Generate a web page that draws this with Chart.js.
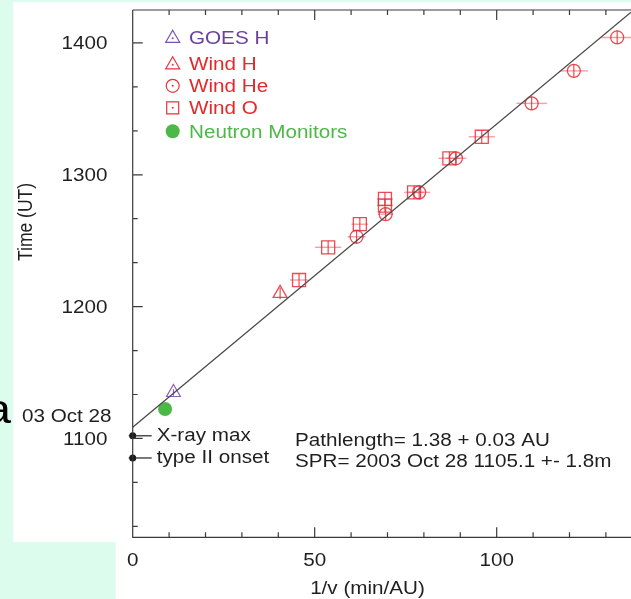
<!DOCTYPE html>
<html>
<head>
<meta charset="utf-8">
<script src="https://cdn.jsdelivr.net/npm/chart.js@4.4.1/dist/chart.umd.min.js"></script>
<style>
  html, body { margin: 0; padding: 0; background: #dcfcee; }
  canvas { display: block; }
</style>
</head>
<body>
<canvas id="sprChart" width="631" height="599"></canvas>
<script>
// x = 1/v (min/AU), y = arrival time in minutes after 00:00 UT (2003 Oct 28)
const goesX = [11.2];
const goesY = [680.9];
const goesYErr = [1.5];

const windHX = [40.5];
const windHY = [726.0];
const windHYErr = [2.6];

const windHeX = [61.5, 69.5, 78.7, 88.8, 109.6, 121.2, 133.1];
const windHeY = [751.8, 762.1, 772.0, 787.5, 812.5, 827.3, 842.5];
const windHeXErr = [2.5, 2.1, 3.0, 2.9, 4.2, 3.9, 4.4];
const windHeYErr = [3.0, 3.0, 3.0, 3.0, 3.0, 3.0, 3.0];

const windOX = [45.7, 53.7, 62.4, 69.3, 69.3, 77.3, 87.0, 95.9];
const windOY = [732.1, 747.0, 757.5, 769.0, 766.0, 772.0, 787.5, 797.3];
const windOXErr = [2.5, 3.6, 2.3, 2.2, 2.2, 2.7, 3.0, 3.6];
const windOYErr = [3.0, 3.0, 3.0, 3.0, 3.0, 3.0, 3.0, 3.0];

const neutronX = [8.9];
const neutronY = [673.4];

// fitted line: Pathlength 1.38 AU, SPR 1105.1
const fitX = [0, 136.9];
const fitY = [665.1, 854.0];

// solar events marked on the time axis
const eventY = [661.2, 651.1];
const eventLabels = ['X-ray max', 'type II onset'];

// axes
const xTicks = [0, 10, 20, 30, 40, 50, 60, 70, 80, 90, 100, 110, 120, 130];
const xLabelValues = [0, 50, 100];
const yTicks = [620, 640, 660, 680, 700, 720, 740, 760, 780, 800, 820, 840];
const yLabelValues = [660, 720, 780, 840];
const yLabelText = ['1100', '1200', '1300', '1400'];

const legendItems = [
  { text: 'GOES H', style: 'triangle', color: '#6a3fa0', stroke: '#7b4fb3' },
  { text: 'Wind H', style: 'triangle', color: '#e62828', stroke: '#e8323c' },
  { text: 'Wind He', style: 'circle', color: '#e62828', stroke: '#e8323c' },
  { text: 'Wind O', style: 'rect', color: '#e62828', stroke: '#e8323c' },
  { text: 'Neutron Monitors', style: 'dot', color: '#4cb848', stroke: '#4cb848' }
];

const FONT = '"Liberation Sans", Arial, Helvetica, sans-serif';
const STRETCH = 1.18;
const RED = 'rgba(232, 44, 54, 0.85)';
const RED_BAR = 'rgba(238, 80, 90, 0.55)';

function pts(xs, ys) {
  return xs.map((x, i) => ({ x: x, y: ys[i] }));
}

function text(ctx, str, x, y, align, color, size) {
  ctx.save();
  ctx.translate(x, y + 0.36 * size);
  ctx.scale(STRETCH, 1);
  ctx.font = size + 'px ' + FONT;
  ctx.fillStyle = color;
  ctx.textAlign = align;
  ctx.textBaseline = 'alphabetic';
  ctx.fillText(str, 0, 0);
  ctx.restore();
}

function symbol(ctx, style, x, y, stroke) {
  ctx.save();
  ctx.strokeStyle = stroke;
  ctx.fillStyle = stroke;
  ctx.lineWidth = 1.2;
  ctx.beginPath();
  if (style === 'triangle') {
    ctx.moveTo(x, y - 7);
    ctx.lineTo(x + 7, y + 5);
    ctx.lineTo(x - 7, y + 5);
    ctx.closePath();
    ctx.stroke();
  } else if (style === 'circle') {
    ctx.arc(x, y, 6.5, 0, Math.PI * 2);
    ctx.stroke();
  } else if (style === 'rect') {
    ctx.rect(x - 6, y - 6, 12, 12);
    ctx.stroke();
  } else {
    ctx.arc(x, y, 7, 0, Math.PI * 2);
    ctx.fill();
  }
  if (style !== 'dot') {
    ctx.beginPath();
    ctx.arc(x, y + (style === 'triangle' ? 1 : 0), 1, 0, Math.PI * 2);
    ctx.fill();
  }
  ctx.restore();
}

const backdrop = {
  id: 'backdrop',
  beforeDraw(chart) {
    const ctx = chart.ctx;
    ctx.save();
    ctx.fillStyle = '#dcfcee';
    ctx.fillRect(0, 0, chart.width, chart.height);
    ctx.fillStyle = '#ffffff';
    ctx.fillRect(13, 2, chart.width - 13, 540);
    ctx.fillRect(115.7, 540, chart.width - 115.7, chart.height - 540);
    // slide text cut off at the left edge
    ctx.translate(11, 423);
    ctx.scale(STRETCH, 1);
    ctx.font = '40px ' + FONT;
    ctx.fillStyle = '#000';
    ctx.textAlign = 'right';
    ctx.fillText('a', 0, 0);
    ctx.restore();
  }
};

const errorBars = {
  id: 'errorBars',
  beforeDatasetsDraw(chart) {
    const ctx = chart.ctx;
    const xs = chart.scales.x;
    const ys = chart.scales.y;
    ctx.save();
    chart.data.datasets.forEach(ds => {
      if (!ds.errX && !ds.errY) return;
      ds.data.forEach((p, j) => {
        const px = xs.getPixelForValue(p.x);
        const py = ys.getPixelForValue(p.y);
        if (ds.errX && ds.errX[j]) {
          ctx.strokeStyle = RED_BAR;
          ctx.lineWidth = 1.4;
          ctx.beginPath();
          ctx.moveTo(xs.getPixelForValue(p.x - ds.errX[j]), py);
          ctx.lineTo(xs.getPixelForValue(p.x + ds.errX[j]), py);
          ctx.stroke();
        }
        if (ds.errY && ds.errY[j]) {
          ctx.strokeStyle = ds.borderColor;
          ctx.lineWidth = 1.2;
          ctx.beginPath();
          ctx.moveTo(px, ys.getPixelForValue(p.y - ds.errY[j]));
          ctx.lineTo(px, ys.getPixelForValue(p.y + ds.errY[j]));
          ctx.stroke();
        }
      });
    });
    ctx.restore();
  }
};

const frame = {
  id: 'frame',
  afterDraw(chart) {
    const ctx = chart.ctx;
    const a = chart.chartArea;
    const xs = chart.scales.x;
    const ys = chart.scales.y;
    ctx.save();
    ctx.strokeStyle = '#3a3a3a';
    ctx.lineWidth = 1.2;
    ctx.beginPath();
    ctx.moveTo(a.left, a.top);
    ctx.lineTo(chart.width, a.top);
    ctx.moveTo(a.left, a.top);
    ctx.lineTo(a.left, a.bottom);
    ctx.lineTo(chart.width, a.bottom);
    // inward ticks
    xTicks.forEach(v => {
      const px = xs.getPixelForValue(v);
      const len = xLabelValues.includes(v) ? 10 : 5;
      ctx.moveTo(px, a.bottom);
      ctx.lineTo(px, a.bottom - len);
      ctx.moveTo(px, a.top);
      ctx.lineTo(px, a.top + len);
    });
    yTicks.forEach(v => {
      const py = ys.getPixelForValue(v);
      const len = yLabelValues.includes(v) ? 10 : 5;
      ctx.moveTo(a.left, py);
      ctx.lineTo(a.left + len, py);
    });
    ctx.stroke();

    // tick labels
    const dark = '#1f1f1f';
    xLabelValues.forEach(v => {
      text(ctx, String(v), xs.getPixelForValue(v), 560, 'center', dark, 17.5);
    });
    yLabelValues.forEach((v, i) => {
      text(ctx, yLabelText[i], 107.5, ys.getPixelForValue(v), 'right', dark, 17.5);
    });
    text(ctx, '03 Oct 28', 111.5, 415.8, 'right', dark, 17.5);

    // axis titles
    text(ctx, '1/v (min/AU)', 367.5, 588, 'center', dark, 17.5);
    ctx.save();
    ctx.translate(25, 222);
    ctx.scale(STRETCH, 1);
    ctx.rotate(-Math.PI / 2);
    ctx.font = '17.5px ' + FONT;
    ctx.fillStyle = dark;
    ctx.textAlign = 'center';
    ctx.fillText('Time (UT)', 0, 6.3);
    ctx.restore();

    // solar event markers on the time axis
    const x0 = xs.getPixelForValue(0);
    ctx.strokeStyle = '#222';
    ctx.lineWidth = 1.2;
    eventY.forEach((t, i) => {
      const py = ys.getPixelForValue(t);
      ctx.beginPath();
      ctx.moveTo(x0 - 4, py);
      ctx.lineTo(x0 + 19, py);
      ctx.stroke();
      text(ctx, eventLabels[i], x0 + 24, py - 1, 'left', dark, 17.5);
    });

    // fit results
    text(ctx, 'Pathlength= 1.38 + 0.03 AU', 295, 439.7, 'left', dark, 17.5);
    text(ctx, 'SPR= 2003 Oct 28 1105.1 +- 1.8m', 295, 460.5, 'left', dark, 17.5);

    // legend
    const legendY = [37.3, 63.8, 85.8, 107.8, 131.2];
    legendItems.forEach((item, i) => {
      symbol(ctx, item.style, 172.7, legendY[i], item.stroke);
      text(ctx, item.text, 189, legendY[i], 'left', item.color, 17.5);
    });
    ctx.restore();
  }
};

const ctx = document.getElementById('sprChart').getContext('2d');
new Chart(ctx, {
  type: 'scatter',
  data: {
    datasets: [
      {
        label: 'Fit',
        type: 'line',
        data: pts(fitX, fitY),
        borderColor: '#4a4a4a',
        borderWidth: 1.3,
        pointRadius: 0,
        showLine: true,
        clip: false
      },
      {
        label: 'GOES H',
        data: pts(goesX, goesY),
        errY: goesYErr,
        pointStyle: 'triangle',
        pointRadius: 8,
        borderColor: 'rgba(125, 80, 180, 0.9)',
        backgroundColor: 'rgba(0,0,0,0)',
        borderWidth: 1.2,
        clip: false
      },
      {
        label: 'Wind H',
        data: pts(windHX, windHY),
        errY: windHYErr,
        pointStyle: 'triangle',
        pointRadius: 8,
        borderColor: RED,
        backgroundColor: 'rgba(0,0,0,0)',
        borderWidth: 1.3,
        clip: false
      },
      {
        label: 'Wind He',
        data: pts(windHeX, windHeY),
        errX: windHeXErr,
        errY: windHeYErr,
        pointStyle: 'circle',
        pointRadius: 6.5,
        borderColor: RED,
        backgroundColor: 'rgba(0,0,0,0)',
        borderWidth: 1.3,
        clip: false
      },
      {
        label: 'Wind O',
        data: pts(windOX, windOY),
        errX: windOXErr,
        errY: windOYErr,
        pointStyle: 'rect',
        pointRadius: 9.2,
        borderColor: RED,
        backgroundColor: 'rgba(0,0,0,0)',
        borderWidth: 1.3,
        clip: false
      },
      {
        label: 'Neutron Monitors',
        data: pts(neutronX, neutronY),
        pointStyle: 'circle',
        pointRadius: 7,
        borderWidth: 0,
        backgroundColor: '#4cb848',
        clip: false
      },
      {
        label: 'Events',
        data: eventY.map(t => ({ x: 0, y: t })),
        pointStyle: 'circle',
        pointRadius: 3.5,
        borderWidth: 0,
        backgroundColor: '#1a1a1a',
        clip: false
      }
    ]
  },
  options: {
    responsive: false,
    animation: false,
    events: [],
    layout: { autoPadding: false, padding: { top: 10, right: 0, bottom: 0, left: 0 } },
    plugins: {
      legend: { display: false },
      tooltip: { enabled: false }
    },
    scales: {
      x: {
        type: 'linear',
        min: 0,
        max: 136.9,
        grid: { display: false, drawTicks: false },
        border: { display: false },
        ticks: { display: false },
        afterBuildTicks: scale => { scale.ticks = xTicks.map(v => ({ value: v })); },
        afterFit: scale => { scale.height = 61.7; }
      },
      y: {
        type: 'linear',
        min: 615,
        max: 855,
        grid: { display: false, drawTicks: false },
        border: { display: false },
        ticks: { display: false },
        afterBuildTicks: scale => { scale.ticks = yTicks.map(v => ({ value: v })); },
        afterFit: scale => { scale.width = 132.7; }
      }
    }
  },
  plugins: [backdrop, errorBars, frame]
});
</script>
</body>
</html>
